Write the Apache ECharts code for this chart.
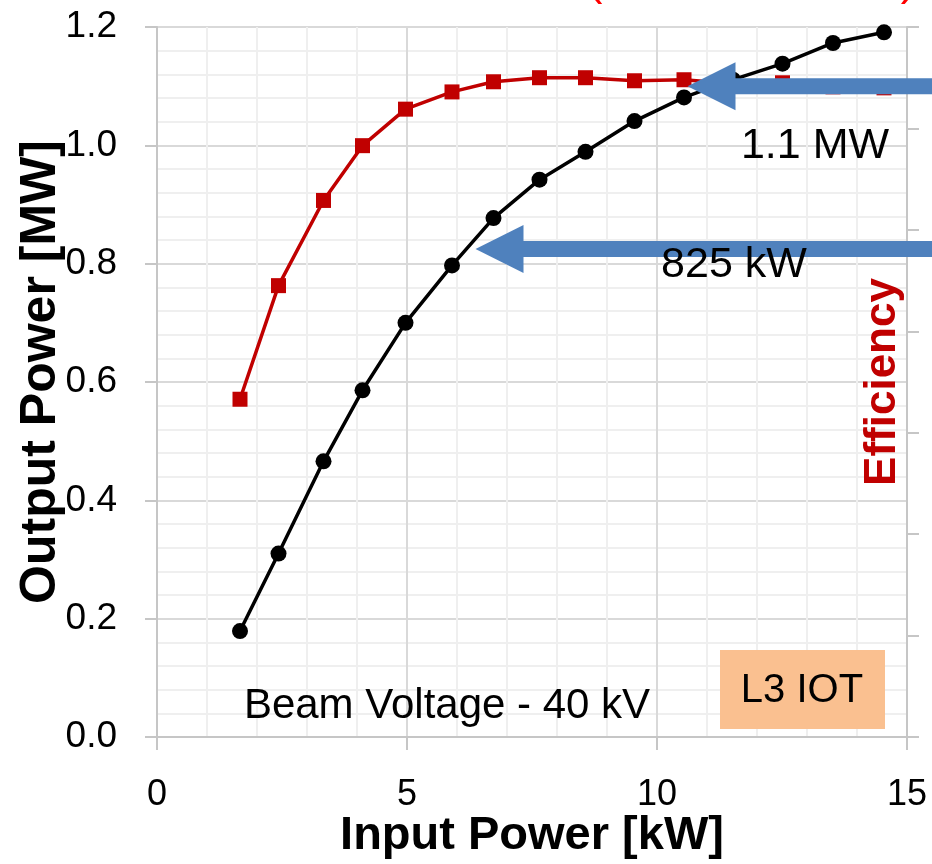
<!DOCTYPE html>
<html>
<head>
<meta charset="utf-8">
<script src="https://cdn.jsdelivr.net/npm/echarts@6/dist/echarts.min.js"></script>
<style>
  html, body { margin: 0; padding: 0; background: #ffffff; }
  #chart { width: 932px; height: 864px; }
</style>
</head>
<body>
<div id="chart"></div>
<script>
// Drive measurements: input RF power [kW], output power [MW], efficiency (fraction)
const inputPowerKW = [1.66, 2.43, 3.33, 4.11, 4.97, 5.90, 6.73, 7.65, 8.57, 9.55, 10.54, 11.52, 12.51, 13.52, 14.54];
const outputPowerMW = [0.179, 0.310, 0.466, 0.586, 0.700, 0.797, 0.877, 0.942, 0.989, 1.041, 1.081, 1.111, 1.138, 1.173, 1.191];
const efficiency = [0.333, 0.445, 0.529, 0.583, 0.619, 0.636, 0.646, 0.650, 0.650, 0.647, 0.648, 0.644, 0.645, 0.641, 0.640];

// Callout arrows: where each arrow points (input kW) and the power level it marks (MW)
const calloutTipKW = [10.61, 6.37];
const calloutLevelMW = [1.1, 0.825];
const calloutText = ['1.1 MW', '825 kW'];

const FONT = '"Liberation Sans", Arial, sans-serif';
const AXIS_GREY = '#c6c6c6';

const chart = echarts.init(document.getElementById('chart'), null, { renderer: 'canvas' });

const option = {
  animation: false,
  backgroundColor: '#ffffff',
  grid: { left: 157, top: 27, right: 25, bottom: 127, containLabel: false, outerBoundsMode: 'none' },
  xAxis: {
    type: 'value',
    min: 0, max: 15, interval: 5,
    axisLine: { show: true, onZero: false, lineStyle: { color: AXIS_GREY, width: 2 } },
    axisTick: { show: true, length: 13, lineStyle: { color: AXIS_GREY, width: 2 } },
    axisLabel: { fontSize: 36, color: '#000', margin: 40, fontFamily: FONT },
    splitLine: { show: true, lineStyle: { color: '#d9d9d9', width: 2 } },
    minorTick: { show: false, splitNumber: 5 },
    minorSplitLine: { show: true, lineStyle: { color: '#efefef', width: 2 } },
    name: 'Input Power [kW]',
    nameLocation: 'middle',
    nameGap: 76,
    nameMoveOverlap: false,
    nameTextStyle: { fontSize: 47, fontWeight: 'bold', color: '#000', fontFamily: FONT }
  },
  yAxis: [
    {
      type: 'value',
      min: 0, max: 1.2, interval: 0.2,
      axisLine: { show: true, onZero: false, lineStyle: { color: AXIS_GREY, width: 2 } },
      axisTick: { show: true, length: 12, lineStyle: { color: AXIS_GREY, width: 2 } },
      axisLabel: { fontSize: 37, color: '#000', margin: 40, fontFamily: FONT, formatter: v => v.toFixed(1) },
      splitLine: { show: true, lineStyle: { color: '#d9d9d9', width: 2 } },
      minorTick: { show: false, splitNumber: 5 },
      minorSplitLine: { show: true, lineStyle: { color: '#efefef', width: 2 } },
      name: 'Output Power [MW]',
      nameLocation: 'middle',
      nameRotate: 90,
      nameGap: 91,
      nameMoveOverlap: false,
      nameTextStyle: { fontSize: 50, fontWeight: 'bold', color: '#000', fontFamily: FONT, padding: [0, 0, 0, 20] }
    },
    {
      type: 'value',
      position: 'right',
      min: 0, max: 0.7, interval: 0.1,
      axisLine: { show: true, onZero: false, lineStyle: { color: AXIS_GREY, width: 2 } },
      axisTick: { show: true, length: 12, lineStyle: { color: AXIS_GREY, width: 2 } },
      axisLabel: { show: false },
      splitLine: { show: false },
      name: 'Efficiency',
      nameLocation: 'middle',
      nameRotate: 90,
      nameGap: -46,
      nameMoveOverlap: false,
      nameTextStyle: { fontSize: 44, fontWeight: 'bold', color: '#c00000', fontFamily: FONT }
    }
  ],
  series: [
    {
      name: 'Efficiency',
      type: 'line',
      yAxisIndex: 1,
      data: inputPowerKW.map((x, i) => [x, efficiency[i]]),
      symbol: 'rect',
      symbolSize: 15,
      showAllSymbol: true,
      itemStyle: { color: '#c00000' },
      lineStyle: { color: '#c00000', width: 3.5 },
      z: 2
    },
    {
      name: 'Output Power',
      type: 'line',
      yAxisIndex: 0,
      data: inputPowerKW.map((x, i) => [x, outputPowerMW[i]]),
      symbol: 'circle',
      symbolSize: 16,
      showAllSymbol: true,
      itemStyle: { color: '#000000' },
      lineStyle: { color: '#000000', width: 3.5 },
      z: 3
    }
  ]
};

chart.setOption(option);

// Left-pointing block arrow whose tip sits on the given data point
function arrowShape(tip) {
  const headLen = 48, headHalf = 24, shaftHalf = 8, tail = 960;
  const [tx, ty] = tip;
  return [
    [tx, ty],
    [tx + headLen, ty - headHalf],
    [tx + headLen, ty - shaftHalf],
    [tail, ty - shaftHalf],
    [tail, ty + shaftHalf],
    [tx + headLen, ty + shaftHalf],
    [tx + headLen, ty + headHalf]
  ];
}

const arrows = calloutTipKW.map((x, i) => {
  const tip = chart.convertToPixel({ xAxisIndex: 0, yAxisIndex: 0 }, [x, calloutLevelMW[i]]);
  return {
    type: 'polygon',
    shape: { points: arrowShape(tip) },
    style: { fill: '#4f81bd' },
    z: 20
  };
});

const calloutPos = [[815, 146], [734, 265]];
const calloutLabels = calloutText.map((t, i) => ({
  type: 'text',
  x: calloutPos[i][0], y: calloutPos[i][1],
  style: { text: t, font: '43px ' + FONT, fill: '#000', align: 'center', verticalAlign: 'middle' },
  z: 21
}));

chart.setOption({
  graphic: [
    ...arrows,
    ...calloutLabels,
    {
      type: 'text',
      x: 447, y: 706,
      style: { text: 'Beam Voltage - 40 kV', font: '42px ' + FONT, fill: '#000', align: 'center', verticalAlign: 'middle' },
      z: 21
    },
    {
      type: 'group',
      x: 720, y: 650,
      z: 21,
      children: [
        { type: 'rect', shape: { x: 0, y: 0, width: 165, height: 79 }, style: { fill: '#fac090' } },
        { type: 'text', x: 82, y: 41, style: { text: 'L3 IOT', font: '40px ' + FONT, fill: '#000', align: 'center', verticalAlign: 'middle' } }
      ]
    },
    // closing marks of the red heading above the plot
    { type: 'text', x: 595, y: 5, style: { text: '(', font: '44px ' + FONT, fill: '#ff0000', align: 'center', verticalAlign: 'bottom' }, z: 21 },
    { type: 'text', x: 908, y: 5, style: { text: ')', font: '44px ' + FONT, fill: '#ff0000', align: 'center', verticalAlign: 'bottom' }, z: 21 }
  ]
});
</script>
</body>
</html>
